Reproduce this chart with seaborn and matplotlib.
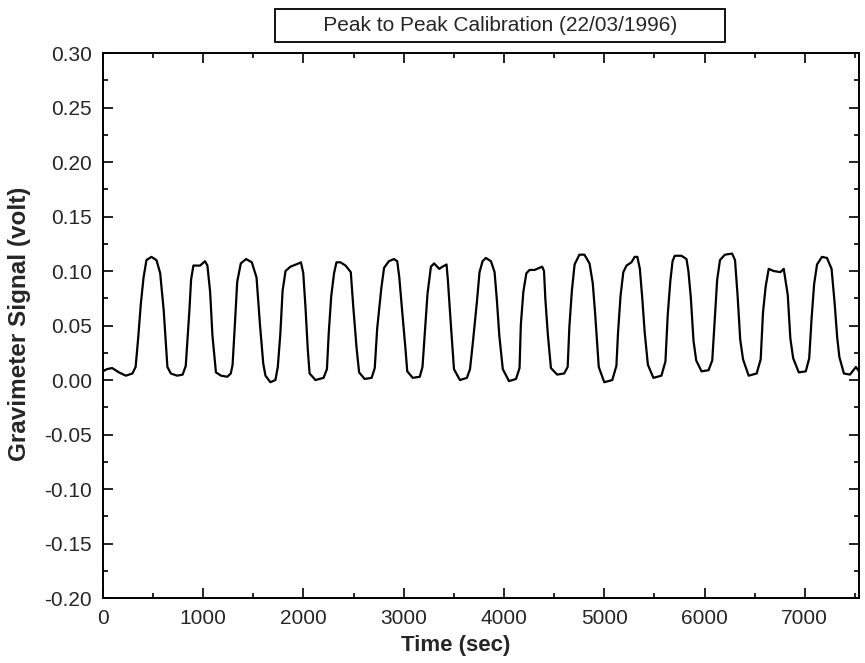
import matplotlib.pyplot as plt
import matplotlib.ticker as ticker
import pandas as pd
import seaborn as sns

# Gravimeter trace (seconds, volts)
time_sec = [
    0, 40, 92, 160, 228, 294, 326, 352, 378, 405, 434, 483, 534, 571, 606, 643, 677, 740, 795,
    826, 845, 863, 879, 902, 969, 1018, 1042, 1069, 1092, 1127, 1178, 1240, 1275,
    1293, 1316, 1339, 1375, 1428, 1485, 1532, 1566, 1599, 1621, 1670, 1720,
    1744, 1769, 1792, 1821, 1870, 1952, 1975, 1998, 2020, 2043, 2061, 2120, 2200,
    2234, 2252, 2277, 2305, 2329, 2369, 2420, 2472, 2496, 2530, 2555, 2610, 2680,
    2711, 2735, 2776, 2804, 2852, 2902, 2935, 2956, 2979, 3016, 3035, 3090, 3160,
    3187, 3212, 3237, 3271, 3303, 3354, 3387, 3427, 3440, 3467, 3501, 3560, 3630,
    3661, 3689, 3729, 3756, 3786, 3819, 3870, 3906, 3930, 3953, 3988, 4050, 4120,
    4155, 4168, 4193, 4223, 4255, 4305, 4355, 4381, 4399, 4412, 4437, 4468, 4530, 4600,
    4635, 4652, 4677, 4704, 4752, 4802, 4853, 4885, 4909, 4945, 5000, 5080,
    5121, 5137, 5162, 5190, 5222, 5271, 5303, 5330, 5355, 5379, 5403, 5435, 5490, 5570,
    5610, 5633, 5659, 5681, 5703, 5770, 5820, 5839, 5863, 5890, 5917, 5970, 6040,
    6077, 6101, 6126, 6154, 6203, 6275, 6304, 6330, 6356, 6384, 6440, 6520,
    6560, 6583, 6610, 6640, 6690, 6757, 6790, 6830, 6856, 6884, 6940, 7010,
    7044, 7068, 7093, 7122, 7171, 7221, 7267, 7298, 7323, 7345, 7390, 7450, 7510, 7540,
]
signal_volt = [
    0.008, 0.010, 0.011, 0.007, 0.004, 0.006, 0.012, 0.039, 0.070, 0.094, 0.110, 0.113, 0.110, 0.098, 0.064, 0.012, 0.006, 0.004, 0.005,
    0.013, 0.040, 0.065, 0.092, 0.105, 0.105, 0.109, 0.105, 0.081, 0.041, 0.007, 0.004, 0.003, 0.006,
    0.014, 0.051, 0.090, 0.107, 0.111, 0.108, 0.094, 0.051, 0.015, 0.004, -0.002, 0.000,
    0.012, 0.042, 0.082, 0.100, 0.104, 0.107, 0.108, 0.098, 0.067, 0.028, 0.006, 0.000, 0.002,
    0.010, 0.043, 0.077, 0.098, 0.108, 0.108, 0.105, 0.099, 0.068, 0.029, 0.007, 0.001, 0.002,
    0.011, 0.047, 0.084, 0.103, 0.109, 0.111, 0.109, 0.094, 0.069, 0.030, 0.008, 0.002, 0.003,
    0.012, 0.045, 0.079, 0.104, 0.107, 0.102, 0.104, 0.106, 0.092, 0.055, 0.010, 0.000, 0.002,
    0.010, 0.034, 0.071, 0.099, 0.109, 0.112, 0.109, 0.099, 0.072, 0.041, 0.010, -0.001, 0.001,
    0.011, 0.051, 0.081, 0.098, 0.101, 0.101, 0.103, 0.104, 0.100, 0.075, 0.042, 0.011, 0.005, 0.006,
    0.012, 0.049, 0.082, 0.106, 0.115, 0.115, 0.107, 0.089, 0.061, 0.012, -0.002, 0.000,
    0.013, 0.043, 0.077, 0.099, 0.105, 0.108, 0.113, 0.113, 0.102, 0.075, 0.044, 0.014, 0.002, 0.004,
    0.017, 0.060, 0.091, 0.109, 0.114, 0.114, 0.111, 0.100, 0.076, 0.036, 0.018, 0.008, 0.009,
    0.018, 0.055, 0.092, 0.110, 0.115, 0.116, 0.110, 0.077, 0.037, 0.019, 0.004, 0.006,
    0.019, 0.062, 0.086, 0.102, 0.100, 0.099, 0.102, 0.078, 0.038, 0.020, 0.007, 0.008,
    0.020, 0.057, 0.088, 0.106, 0.113, 0.112, 0.102, 0.070, 0.039, 0.021, 0.006, 0.005, 0.012, 0.008,
]

x_ticks = [0, 1000, 2000, 3000, 4000, 5000, 6000, 7000]
y_ticks = [-0.20, -0.15, -0.10, -0.05, 0.00, 0.05, 0.10, 0.15, 0.20, 0.25, 0.30]
x_limits = (0, 7540)
y_limits = (-0.20, 0.30)
chart_title = 'Peak to Peak Calibration (22/03/1996)'


def plot_calibration(trace_df):
    """
    Plots the gravimeter signal recorded during the peak to peak calibration.

    Parameters
    ----------
    trace_df : Dataframe
        Time and signal values of the trace
    """
    sns.set_style('ticks')
    plt.rcParams['font.family'] = ['Liberation Sans', 'DejaVu Sans']
    plt.rcParams['axes.unicode_minus'] = False

    fig = plt.figure(figsize=(8.65, 6.63), dpi=100)
    ax = fig.add_axes([0.119, 0.098, 0.874, 0.822])

    # Plot the trace as drawn, no aggregation
    sns.lineplot(data=trace_df, x='Time', y='Signal', ax=ax, color='black',
                 linewidth=1.6, estimator=None, sort=False)

    # Axes, ticks and labels
    ax.set_xlim(*x_limits)
    ax.set_ylim(*y_limits)
    ax.set_xticks(x_ticks)
    ax.set_yticks(y_ticks)
    ax.xaxis.set_minor_locator(ticker.MultipleLocator(500))
    ax.yaxis.set_minor_locator(ticker.MultipleLocator(0.025))
    ax.yaxis.set_major_formatter(ticker.FormatStrFormatter('%.2f'))
    ax.tick_params(which='both', direction='in', top=True, right=True,
                   color='black', width=1.2)
    ax.tick_params(which='major', length=7, labelsize=15, pad=8)
    ax.tick_params(which='minor', length=3.5)
    for spine in ax.spines.values():
        spine.set_linewidth(1.4)
        spine.set_color('black')
    ax.set_xlabel('')
    ax.set_ylabel('')

    # Axis titles placed as in the scan
    fig.text(0.527, 0.026, 'Time (sec)', fontsize=16, fontweight='bold',
             ha='center', va='center')
    fig.text(0.022, 0.511, 'Gravimeter Signal (volt)', fontsize=17.5,
             fontweight='bold', rotation=90, ha='center', va='center')

    # Boxed title above the plot
    fig.text(0.578, 0.9615, '       ' + chart_title + '       ', fontsize=15,
             ha='center', va='center',
             bbox=dict(boxstyle='square,pad=0.35', facecolor='white',
                       edgecolor='black', linewidth=1.3))

    plt.savefig('out.png', dpi=100)
    plt.close(fig)


trace = pd.DataFrame({'Time': time_sec, 'Signal': signal_volt})
plot_calibration(trace)
